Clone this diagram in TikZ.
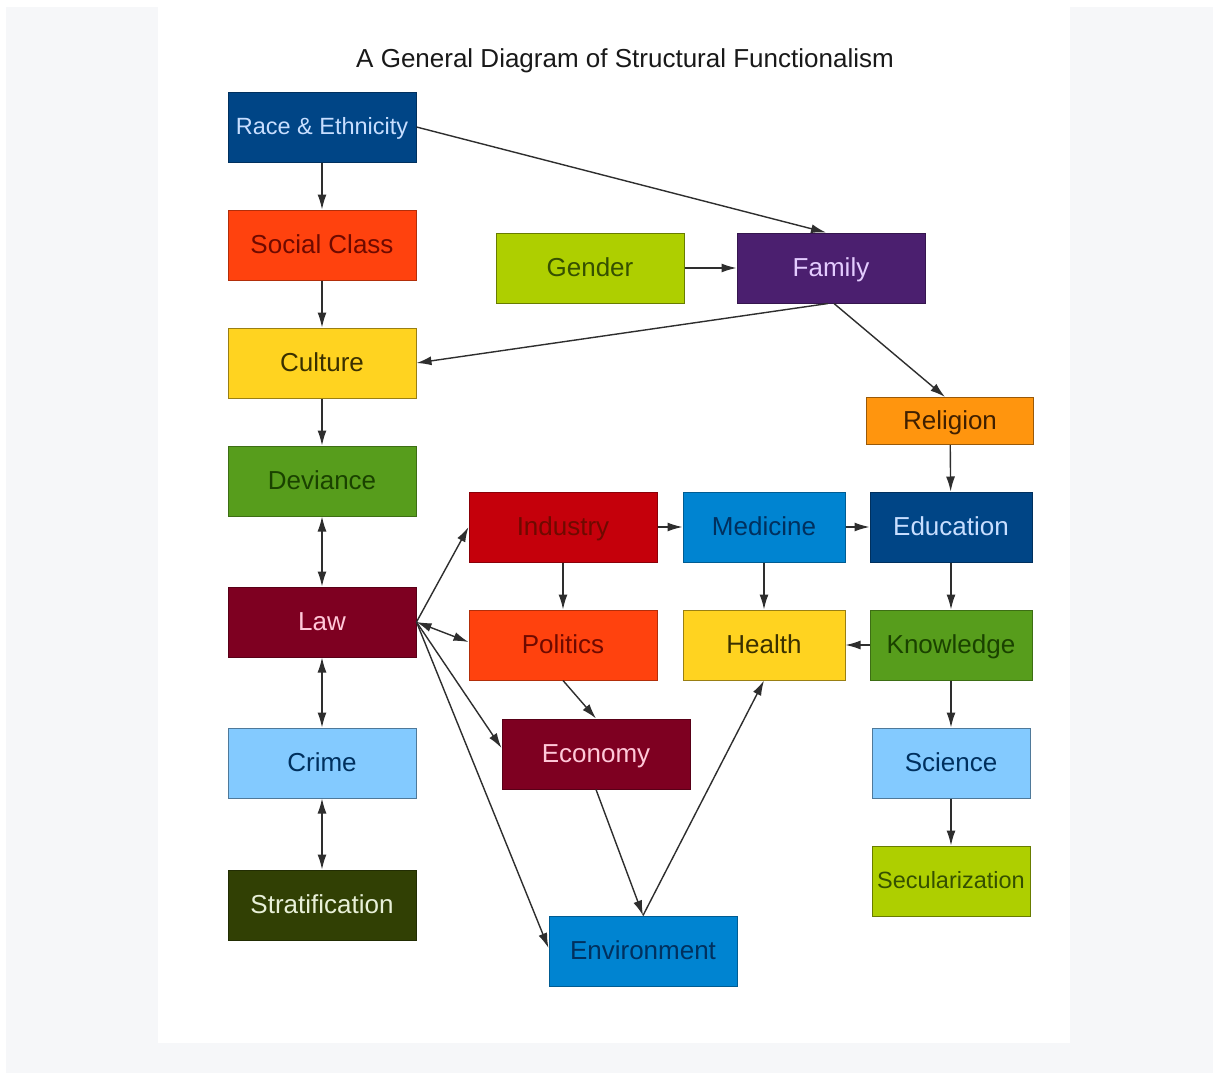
\documentclass[tikz,border=0pt]{standalone}
\usepackage{fontspec}
\setmainfont{Liberation Sans}
\usetikzlibrary{arrows.meta,calc}
\definecolor{cRace}{HTML}{004586}
\definecolor{cSocial}{HTML}{FF420E}
\definecolor{cYellow}{HTML}{FFD320}
\definecolor{cGreen}{HTML}{579D1C}
\definecolor{cMaroon}{HTML}{7E0021}
\definecolor{cLightBlue}{HTML}{83CAFF}
\definecolor{cOlive}{HTML}{314004}
\definecolor{cLime}{HTML}{AECF00}
\definecolor{cPurple}{HTML}{4B1F6F}
\definecolor{cOrange}{HTML}{FF950E}
\definecolor{cRed}{HTML}{C5000B}
\definecolor{cMedBlue}{HTML}{0084D1}
\definecolor{cGray}{HTML}{F6F7F9}
\definecolor{tLightBlue}{HTML}{C8DEFF}
\definecolor{tDarkRed}{HTML}{6E0A00}
\definecolor{tDark}{HTML}{3A3000}
\definecolor{tDarkGreen}{HTML}{1A4200}
\definecolor{tPink}{HTML}{FFC8D8}
\definecolor{tNavy}{HTML}{00305E}
\definecolor{tPale}{HTML}{E8F0D8}
\definecolor{tOliveText}{HTML}{355000}
\definecolor{tLavender}{HTML}{E4CCFF}
\definecolor{tBrown}{HTML}{402000}
\definecolor{lineGray}{HTML}{2E2E2E}
\tikzset{
  box/.style={rectangle, inner sep=0pt, minimum width=188pt, minimum height=70pt,
    line width=1pt, text height=19pt, text depth=2pt, font=\fontsize{26}{30}\selectfont},
  narrowbox/.style={box, minimum width=162pt},
  smalltext/.style={font=\fontsize{23.5}{28}\selectfont, text height=17pt, text depth=2pt},
  conn/.style={draw=lineGray, line width=1.4pt, -{Latex[length=15pt,width=9pt]}},
  bconn/.style={draw=lineGray, line width=1.4pt, {Latex[length=15pt,width=9pt]}-{Latex[length=15pt,width=9pt]}},
}
\begin{document}
\begin{tikzpicture}[x=1pt,y=-1pt]
\useasboundingbox (0,0) rectangle (1213,1073);
\fill[white] (0,0) rectangle (1213,1073);
\fill[cGray] (6,7) rectangle (1213,1073);
\fill[white] (158,7) rectangle (1070,1043);
\node[font=\fontsize{26}{30}\selectfont, text=black!90] (title) at (625,61) {A General Diagram of Structural Functionalism};
% left column
\node[box, smalltext, fill=cRace, draw=cRace!70!black, text=tLightBlue] (race) at (322,127) {Race \& Ethnicity};
\node[box, fill=cSocial, draw=cSocial!70!black, text=tDarkRed] (social) at (322,245) {Social Class};
\node[box, fill=cYellow, draw=cYellow!60!black, text=tDark] (culture) at (322,363) {Culture};
\node[box, fill=cGreen, draw=cGreen!70!black, text=tDarkGreen] (deviance) at (322,481) {Deviance};
\node[box, fill=cMaroon, draw=cMaroon!70!black, text=tPink] (law) at (322,622) {Law};
\node[box, fill=cLightBlue, draw=cLightBlue!60!black, text=tNavy] (crime) at (322,763) {Crime};
\node[box, fill=cOlive, draw=cOlive!70!black, text=tPale] (strat) at (322,905) {Stratification};
% top middle
\node[box, fill=cLime, draw=cLime!60!black, text=tOliveText] (gender) at (590,268) {Gender};
\node[box, fill=cPurple, draw=cPurple!70!black, text=tLavender] (family) at (831,268) {Family};
\node[box, minimum width=167pt, minimum height=47pt, fill=cOrange, draw=cOrange!60!black, text=tBrown] (religion) at (950,421) {Religion};
% grid
\node[box, fill=cRed, draw=cRed!70!black, text=tDarkRed] (industry) at (563,527) {Industry};
\node[narrowbox, fill=cMedBlue, draw=cMedBlue!70!black, text=tNavy] (medicine) at (764,527) {Medicine};
\node[narrowbox, fill=cRace, draw=cRace!70!black, text=tLightBlue] (education) at (951,527) {Education};
\node[box, fill=cSocial, draw=cSocial!70!black, text=tDarkRed] (politics) at (563,645) {Politics};
\node[narrowbox, fill=cYellow, draw=cYellow!60!black, text=tDark] (health) at (764,645) {Health};
\node[narrowbox, fill=cGreen, draw=cGreen!70!black, text=tDarkGreen] (knowledge) at (951,645) {Knowledge};
\node[box, fill=cMaroon, draw=cMaroon!70!black, text=tPink] (economy) at (596,754) {Economy};
\node[box, minimum width=158pt, fill=cLightBlue, draw=cLightBlue!60!black, text=tNavy] (science) at (951,763) {Science};
\node[box, smalltext, minimum width=158pt, fill=cLime, draw=cLime!60!black, text=tOliveText] (secular) at (951,881) {Secularization};
\node[box, fill=cMedBlue, draw=cMedBlue!70!black, text=tNavy] (environment) at (643,951) {Environment};
% connectors
\draw[conn] (race) -- (social);
\draw[conn] (social) -- (culture);
\draw[conn] (culture) -- (deviance);
\draw[bconn] (deviance) -- (law);
\draw[bconn] (law) -- (crime);
\draw[bconn] (crime) -- (strat);
\draw[conn] (race.east) -- ($(family.north)+(-5,0)$);
\draw[conn] (gender) -- (family);
\draw[conn] ($(family.south)+(-3,0)$) -- (culture.east);
\draw[conn] ($(family.south)+(3,0)$) -- ($(religion.north)+(-5,0)$);
\draw[conn] (religion) -- (education);
\draw[conn] (law.east) -- (industry.west);
\draw[bconn] (law.east) -- ($(politics.west)+(0,-3)$);
\draw[conn] (law.east) -- ($(economy.west)+(0,-6)$);
\draw[conn] (law.east) -- ($(environment.west)+(0,-3)$);
\draw[conn] (industry) -- (politics);
\draw[conn] (industry) -- (medicine);
\draw[conn] (medicine) -- (education);
\draw[conn] (medicine) -- (health);
\draw[conn] (education) -- (knowledge);
\draw[conn] (knowledge) -- (health);
\draw[conn] (knowledge) -- (science);
\draw[conn] (science) -- (secular);
\draw[conn] (politics.south) -- (economy.north);
\draw[conn] (economy.south) -- (environment.north);
\draw[conn] (environment.north) -- (health.south);
\end{tikzpicture}
\end{document}
